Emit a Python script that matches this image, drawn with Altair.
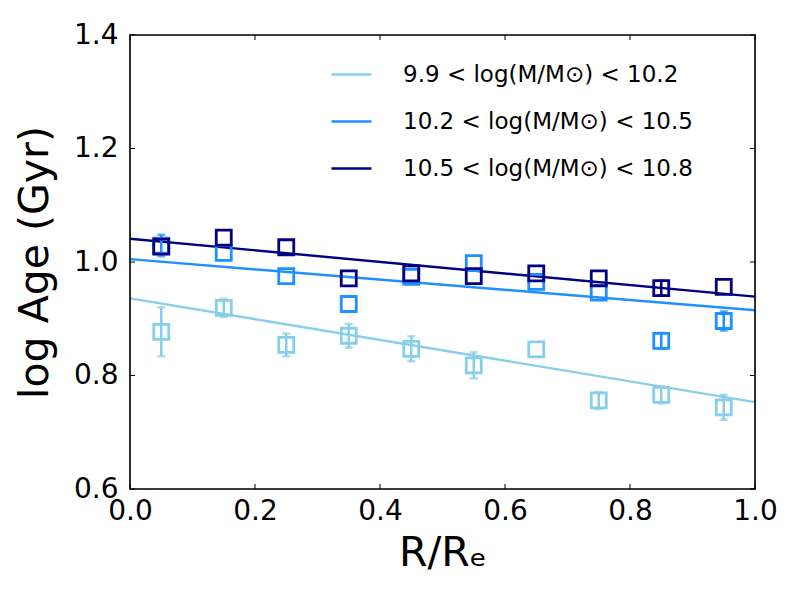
import altair as alt
import pandas as pd

r = [0.05, 0.15, 0.25, 0.35, 0.45, 0.55, 0.65, 0.75, 0.85, 0.95]

age_low = [0.877, 0.919, 0.854, 0.870, 0.847, 0.818, 0.846, 0.756, 0.766, 0.744]
err_low = [0.043, 0.016, 0.020, 0.021, 0.022, 0.023, 0.0, 0.015, 0.015, 0.022]
age_mid = [1.029, 1.016, 0.975, 0.926, 0.974, 0.998, 0.965, 0.946, 0.861, 0.896]
err_mid = [0.019, 0.0, 0.0, 0.0, 0.0, 0.0, 0.0, 0.0, 0.014, 0.017]
age_high = [1.027, 1.043, 1.026, 0.971, 0.980, 0.975, 0.980, 0.971, 0.954, 0.956]
err_high = [0.0, 0.0, 0.0, 0.0, 0.0, 0.0, 0.0, 0.0, 0.013, 0.0]

fit_intercept = [0.936, 1.005, 1.041]
fit_slope = [-0.183, -0.090, -0.102]

labels = [
    "9.9 < log(M/M\u2299) < 10.2",
    "10.2 < log(M/M\u2299) < 10.5",
    "10.5 < log(M/M\u2299) < 10.8",
]
colors = ["#87CEEB", "#1E90FF", "#000080"]

x_ticks = [0.0, 0.2, 0.4, 0.6, 0.8, 1.0]
y_ticks = [0.6, 0.8, 1.0, 1.2, 1.4]

W, H = 625, 454

rows = []
for lab, ages, errs in zip(labels, [age_low, age_mid, age_high], [err_low, err_mid, err_high]):
    for xv, a, e in zip(r, ages, errs):
        rows.append({"r": xv, "age": a, "lo": a - e, "hi": a + e, "err": e, "grp": lab})
pts = pd.DataFrame(rows)
errpts = pts[pts["err"] > 0]

fit_rows = []
for lab, a, b in zip(labels, fit_intercept, fit_slope):
    for xv in [0.0, 1.0]:
        fit_rows.append({"r": xv, "age": a + b * xv, "grp": lab})
fits = pd.DataFrame(fit_rows)

xs = alt.Scale(domain=[0, 1], nice=False, zero=False)
ys = alt.Scale(domain=[0.6, 1.4], nice=False, zero=False)
col = alt.Scale(domain=labels, range=colors)

X = alt.X("r:Q", scale=xs, axis=alt.Axis(
    values=x_ticks, format=".1f", title="R/R\u2091", ticks=False, domain=False, grid=False,
    labelFlush=False, labelOverlap=False,
    labelFontSize=28, labelFont="DejaVu Sans", labelColor="black", labelPadding=8,
    titleFontSize=41, titleFont="DejaVu Sans", titleFontWeight="normal", titleColor="black",
    titlePadding=8))
Y = alt.Y("age:Q", scale=ys, axis=alt.Axis(
    values=y_ticks, format=".1f", title="log Age (Gyr)", ticks=False, domain=False, grid=False,
    labelFlush=False, labelOverlap=False,
    labelFontSize=28, labelFont="DejaVu Sans", labelColor="black", labelPadding=12,
    titleFontSize=41, titleFont="DejaVu Sans", titleFontWeight="normal", titleColor="black",
    titlePadding=17))

lines = alt.Chart(fits).mark_line(strokeWidth=2.4, clip=True).encode(
    x=X, y=Y,
    color=alt.Color("grp:N", scale=col, sort=labels, legend=alt.Legend(
        title=None, orient="none", legendX=200, legendY=18, symbolType="stroke",
        symbolSize=1600, symbolStrokeWidth=2.4, labelFontSize=23, labelFont="DejaVu Sans",
        labelColor="black", labelOffset=30, rowPadding=13, labelLimit=400)),
    detail="grp:N",
)

bars = alt.Chart(errpts).mark_rule(strokeWidth=2.5).encode(
    x="r:Q", y="lo:Q", y2="hi:Q",
    color=alt.Color("grp:N", scale=col, legend=None),
)
caps_lo = alt.Chart(errpts).mark_tick(orient="horizontal", size=8, thickness=2.5).encode(
    x="r:Q", y="lo:Q", color=alt.Color("grp:N", scale=col, legend=None))
caps_hi = alt.Chart(errpts).mark_tick(orient="horizontal", size=8, thickness=2.5).encode(
    x="r:Q", y="hi:Q", color=alt.Color("grp:N", scale=col, legend=None))

squares = alt.Chart(pts).mark_point(shape="square", filled=False, size=225, strokeWidth=2.8,
                                    opacity=1).encode(
    x="r:Q", y="age:Q", color=alt.Color("grp:N", scale=col, legend=None))

xt = pd.DataFrame({"t": x_ticks})
yt = pd.DataFrame({"t": y_ticks})
tick_style = dict(color="black", strokeWidth=1)
xb = alt.Chart(xt).mark_rule(**tick_style).encode(x=alt.X("t:Q", scale=xs), y=alt.value(H), y2=alt.value(H - 5))
xtp = alt.Chart(xt).mark_rule(**tick_style).encode(x=alt.X("t:Q", scale=xs), y=alt.value(0), y2=alt.value(5))
yl = alt.Chart(yt).mark_rule(**tick_style).encode(y=alt.Y("t:Q", scale=ys), x=alt.value(0), x2=alt.value(5))
yr = alt.Chart(yt).mark_rule(**tick_style).encode(y=alt.Y("t:Q", scale=ys), x=alt.value(W), x2=alt.value(W - 5))

frame = alt.Chart(pd.DataFrame({"k": [0]})).mark_rect(
    fill=None, stroke="black", strokeWidth=1.6).encode(
    x=alt.value(0), x2=alt.value(W), y=alt.value(0), y2=alt.value(H))

chart = alt.layer(lines, bars, caps_lo, caps_hi, squares, xb, xtp, yl, yr, frame).properties(
    width=W, height=H,
    autosize=alt.AutoSizeParams(type="none"),
    padding={"left": 122, "top": 27, "right": 37, "bottom": 100},
).configure_view(stroke=None).configure(background="white")

chart.save("out.html", embed_options={"renderer": "svg", "actions": False})
